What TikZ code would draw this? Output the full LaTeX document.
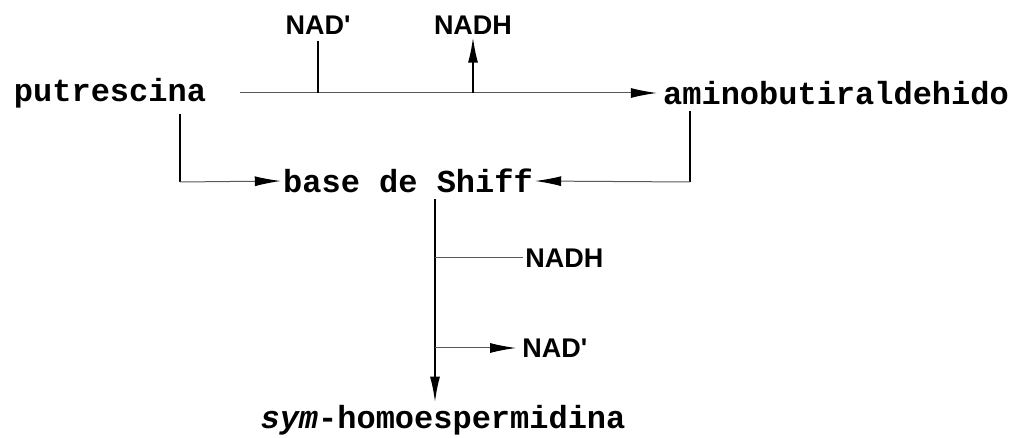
\documentclass[tikz,border=0pt]{standalone}
\usepackage{fontspec}
\usetikzlibrary{arrows.meta}
\newfontfamily\chemfont{Liberation Mono}
\newfontfamily\cofont{Liberation Sans}

\tikzset{
  compound/.style={font=\chemfont\bfseries\fontsize{16}{18}\selectfont,inner sep=3pt},
  cofactor/.style={font=\cofont\bfseries\fontsize{13.5}{15}\selectfont,inner sep=3pt},
  hline/.style={line width=.5pt,black!65},
  vline/.style={line width=1.1pt},
  tip/.style={-{Latex[length=13pt,width=5pt,color=black]}}
}

\begin{document}
\begin{tikzpicture}[x=.5pt,y=-.5pt]
      \useasboundingbox (0,0) rectangle (1030,438);
      % compounds
      \node[compound] (put) at (110,93) {putrescina};
      \node[compound] (amino) at (836,93) {aminobutiraldehido};
      \node[compound,inner xsep=1pt] (shiff) at (408,181) {base de Shiff};
      \node[compound,inner ysep=1pt] (sym) at (443,420) {\textit{sym}-homoespermidina};
      % cofactors
      \node[cofactor] (nadpa) at (318,25) {NAD'};
      \node[cofactor,inner ysep=1pt] (nadha) at (473,25) {NADH};
      \node[cofactor,anchor=west,inner xsep=1pt] (nadhb) at (523,258) {NADH};
      \node[cofactor,anchor=west] (nadpb) at (516,348) {NAD'};
      \coordinate (lc) at (180,182);
      \coordinate (rc) at (690,182);
      \coordinate (ax) at (435,258);
      \coordinate (bx) at (435,348);

      \draw[hline,tip,shorten <=14pt] (put.east) -- (amino.west);
      \draw[vline] (nadpa.south) -- (nadpa.south |- put.east);
      \draw[vline,tip] (nadha.south |- put.east) -- (nadha.south);

      \draw[vline] (put.south -| lc) -- (lc);
      \draw[hline,tip] (lc) -- (shiff.west);
      \draw[vline] (amino.south -| rc) -- (rc);
      \draw[hline,tip] (rc) -- (shiff.east);

      \draw[vline,tip] (shiff.south -| ax) -- (sym.north -| ax);
      \draw[hline] (ax) -- (nadhb.west);
      \draw[hline,tip] (bx) -- (nadpb.west);
    \end{tikzpicture}
\end{document}
